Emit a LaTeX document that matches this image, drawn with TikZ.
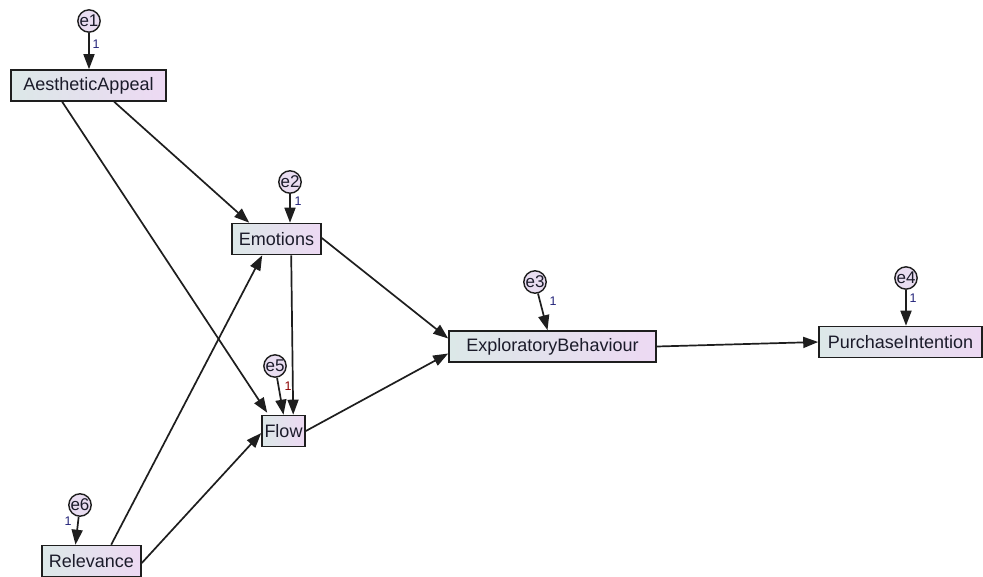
\documentclass[tikz,border=0pt]{standalone}
\usepackage{fontspec}
\setmainfont{Liberation Sans}
\usetikzlibrary{arrows.meta}
\definecolor{boxleft}{HTML}{DCE8E8}
\definecolor{boxright}{HTML}{EDD9F3}
\definecolor{errfill}{HTML}{E9DDF1}
\definecolor{edgecol}{HTML}{1E1E1E}
\definecolor{textcol}{HTML}{1B1B2A}
\definecolor{weightcol}{HTML}{23237A}
\begin{document}
\begin{tikzpicture}[x=1pt,y=-1pt,
  varbox/.style={draw=edgecol, line width=1.6pt, left color=boxleft, right color=boxright,
    shading angle=90, inner sep=0pt, minimum height=31pt, text=textcol,
    font=\fontsize{18}{20}\selectfont},
  errnode/.style={circle, draw=edgecol, line width=1.4pt, fill=errfill, inner sep=0pt,
    minimum size=19pt, text=textcol, font=\fontsize{17}{18}\selectfont},
  path/.style={draw=edgecol, line width=1.7pt, -{Triangle[length=15pt,width=11pt]}},
  weight/.style={text=weightcol, font=\fontsize{12.5}{13}\selectfont, inner sep=0pt}]
\useasboundingbox[fill=white] (0,0) rectangle (983,576);

% observed variables
\node[varbox, minimum width=155pt] (AA)  at (88.5,85.5) {AestheticAppeal};
\node[varbox, minimum width=89pt]  (Emo) at (276.5,239) {Emotions};
\node[varbox, minimum width=43pt]  (Flow) at (283.5,431) {Flow};
\node[varbox, minimum width=99pt]  (Rel) at (91.5,561) {Relevance};
\node[varbox, minimum width=207pt] (EB)  at (552.5,346.5) {ExploratoryBehaviour};
\node[varbox, minimum width=163pt] (PI)  at (900.5,342) {PurchaseIntention};

% error terms
\node[errnode] (e1) at (89,21)   {e1};
\node[errnode] (e2) at (290,182) {e2};
\node[errnode] (e3) at (535,282) {e3};
\node[errnode] (e4) at (906,278) {e4};
\node[errnode] (e5) at (275,366) {e5};
\node[errnode] (e6) at (80,505)  {e6};

% structural paths
\draw[path] ([xshift=104pt]AA.south west) -- ([xshift=18pt]Emo.north west);
\draw[path] ([xshift=52pt]AA.south west) -- ([xshift=6pt,yshift=2pt]Flow.north west);
\draw[path] ([xshift=60pt]Emo.south west) -- ([xshift=32pt]Flow.north west);
\draw[path] ([yshift=1pt]Emo.east) -- ([yshift=8pt]EB.west);
\draw[path] (Flow.east) -- ([yshift=-7pt]EB.west);
\draw[path] ([xshift=70pt]Rel.north west) -- ([xshift=31pt]Emo.south west);
\draw[path] ([yshift=-2pt]Rel.east) -- ([yshift=-2pt]Flow.west);
\draw[path] (EB.east) -- (PI.west);

% error paths
\draw[path] (e1) -- (e1 |- AA.north);
\draw[path] (e2) -- (e2 |- Emo.north);
\draw[path] (e3) -- ([xshift=-5pt]EB.north);
\draw[path] (e4) -- (e4 |- PI.north);
\draw[path] (e5) -- (Flow.north);
\draw[path] (e6) -- ([xshift=-16pt]Rel.north);

% fixed weights
\node[weight] (w1) at (96,44)   {1};
\node[weight] (w2) at (298,201) {1};
\node[weight] (w3) at (553,301) {1};
\node[weight] (w4) at (913,298) {1};
\node[weight, text=red!55!black] (w5) at (288,386) {1};
\node[weight] (w6) at (68,521)  {1};
\end{tikzpicture}
\end{document}
